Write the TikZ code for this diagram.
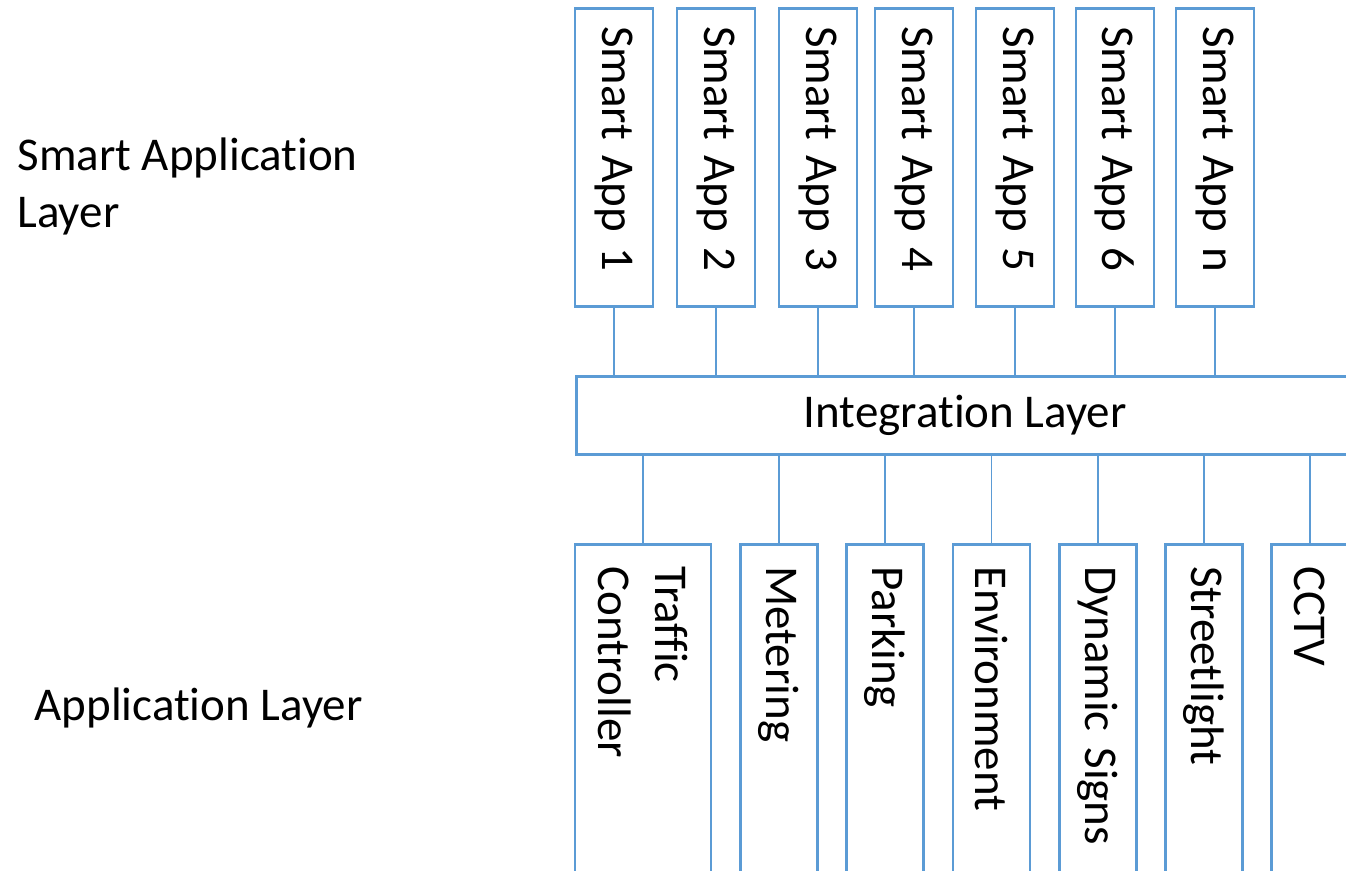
\documentclass[tikz,border=0pt]{standalone}
\usepackage{fontspec}
\setmainfont[Ligatures=NoCommon, Contextuals=NoAlternate]{Carlito}
\usepackage{tikz}
\usetikzlibrary{positioning}
\definecolor{layerblue}{HTML}{5B9BD5}

\begin{document}
\begin{tikzpicture}[
        x=1pt, y=-1pt,
        layerbox/.style={rectangle, draw=layerblue, line width=2.5pt, fill=white, inner ysep=0pt, font=\fontsize{47}{57}\selectfont},
        smartapp/.style={layerbox, rotate=-90, anchor=west, text width=262pt, inner xsep=18pt, minimum height=78pt, align=left},
        baseapp/.style={layerbox, rotate=-90, anchor=west, text width=380pt, inner xsep=22pt, minimum height=77pt, align=left},
        link/.style={draw=layerblue, line width=1.5pt},
        layertext/.style={font=\fontsize{47}{57}\selectfont, align=left, anchor=west}
    ]
    \clip (0,0) rectangle (1346,870);

    % Layer labels
    \node[layertext] (smartlabel) at (14,186) {Smart Application\\Layer};
    \node[layertext] (applabel) at (31,708) {Application Layer};

    % Smart apps
    \node[smartapp] (sa1) at (614,7) {Smart App 1};
    \node[smartapp] (sa2) at (716,7) {Smart App 2};
    \node[smartapp] (sa3) at (818,7) {Smart App 3};
    \node[smartapp] (sa4) at (914,7) {Smart App 4};
    \node[smartapp] (sa5) at (1015,7) {Smart App 5};
    \node[smartapp] (sa6) at (1115,7) {Smart App 6};
    \node[smartapp] (san) at (1215,7) {Smart App n};

    % Integration
    \node[layerbox, anchor=north west, minimum width=778pt, minimum height=78pt] (integration) at (575,375) {Integration Layer};

    % Base applications
    \node[baseapp, minimum height=136pt] (traffic) at (643,543) {Traffic\\Controller};
    \node[baseapp] (metering) at (779,543) {Metering};
    \node[baseapp] (parking) at (885,543) {Parking};
    \node[baseapp] (environment) at (991.5,543) {Environment};
    \node[baseapp] (signs) at (1098,543) {Dynamic Signs};
    \node[baseapp] (streetlight) at (1204,543) {Streetlight};
    \node[baseapp] (cctv) at (1310,543) {CCTV};

    % Edges
    \draw[link] (sa1.east) -- (sa1.east |- integration.north);
    \draw[link] (sa2.east) -- (sa2.east |- integration.north);
    \draw[link] (sa3.east) -- (sa3.east |- integration.north);
    \draw[link] (sa4.east) -- (sa4.east |- integration.north);
    \draw[link] (sa5.east) -- (sa5.east |- integration.north);
    \draw[link] (sa6.east) -- (sa6.east |- integration.north);
    \draw[link] (san.east) -- (san.east |- integration.north);

    \draw[link] (traffic.west) -- (traffic.west |- integration.south);
    \draw[link] (metering.west) -- (metering.west |- integration.south);
    \draw[link] (parking.west) -- (parking.west |- integration.south);
    \draw[link] (environment.west) -- (environment.west |- integration.south);
    \draw[link] (signs.west) -- (signs.west |- integration.south);
    \draw[link] (streetlight.west) -- (streetlight.west |- integration.south);
    \draw[link] (cctv.west) -- (cctv.west |- integration.south);

\end{tikzpicture}
\end{document}
